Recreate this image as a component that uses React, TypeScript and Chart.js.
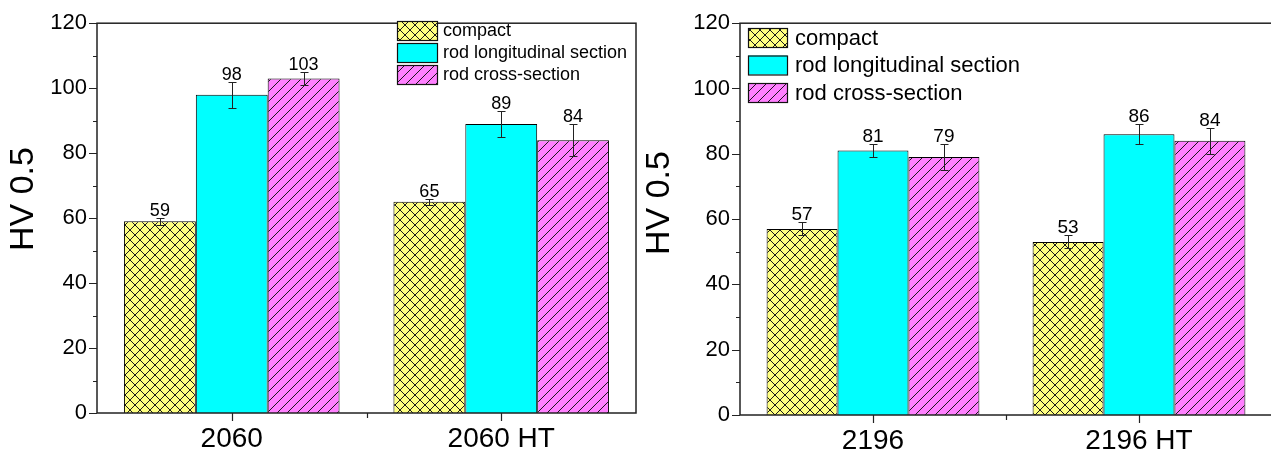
import React, { useEffect, useRef } from 'react';
import { Chart, registerables } from 'chart.js';

Chart.register(...registerables);

const FONT = '"Liberation Sans", Arial, Helvetica, sans-serif';

// Series shared by both panels
const seriesNames = ['compact', 'rod longitudinal section', 'rod cross-section'];

// Alloy 2060
const categories2060 = ['2060', '2060 HT'];
const compact2060 = [59, 65];
const compactErr2060 = [1, 1];
const longitudinal2060 = [98, 89];
const longitudinalErr2060 = [4, 4];
const crossSection2060 = [103, 84];
const crossSectionErr2060 = [2, 5];

// Alloy 2196
const categories2196 = ['2196', '2196 HT'];
const compact2196 = [57, 53];
const compactErr2196 = [2, 2];
const longitudinal2196 = [81, 86];
const longitudinalErr2196 = [2, 3];
const crossSection2196 = [79, 84];
const crossSectionErr2196 = [4, 4];

// Hardness axis
const yTicks = [0, 20, 40, 60, 80, 100, 120];
const yMinorTicks = [10, 30, 50, 70, 90, 110];
const yTitle = 'HV 0.5';

type PanelSpec = {
  categories: string[];
  values: number[][];
  errs: number[][];
  width: number;
  axisW: number;
  bottomH: number;
  padTop: number;
  padRight: number;
  tickFont: number;
  tickPad: number;
  catFont: number;
  catPad: number;
  valueFont: number;
  title: { x: number; y: number; size: number };
  legend: { x: number; y: number; w: number; h: number; pitch: number; textX: number; size: number };
};

const panel2060: PanelSpec = {
  categories: categories2060,
  values: [compact2060, longitudinal2060, crossSection2060],
  errs: [compactErr2060, longitudinalErr2060, crossSectionErr2060],
  width: 640,
  axisW: 97,
  bottomH: 45,
  padTop: 20,
  padRight: 4,
  tickFont: 22,
  tickPad: 10,
  catFont: 28,
  catPad: 9,
  valueFont: 18,
  title: { x: 24, y: 199, size: 34 },
  legend: { x: 397, y: 21, w: 40, h: 19, pitch: 22, textX: 443, size: 18 },
};

const panel2196: PanelSpec = {
  categories: categories2196,
  values: [compact2196, longitudinal2196, crossSection2196],
  errs: [compactErr2196, longitudinalErr2196, crossSectionErr2196],
  width: 634,
  axisW: 100,
  bottomH: 43,
  padTop: 21,
  padRight: 2,
  tickFont: 22,
  tickPad: 10,
  catFont: 28,
  catPad: 9,
  valueFont: 19,
  title: { x: 20, y: 203, size: 34 },
  legend: { x: 108, y: 28, w: 39, h: 19, pitch: 27.5, textX: 155, size: 22 },
};

function makeHatch(bg: string, kind: 'cross' | 'slash', p: number): CanvasPattern | string {
  const c = document.createElement('canvas');
  c.width = p;
  c.height = p;
  const g = c.getContext('2d');
  if (!g) return bg;
  g.fillStyle = bg;
  g.fillRect(0, 0, p, p);
  g.strokeStyle = '#1a1a1a';
  g.lineWidth = 1;
  g.beginPath();
  for (const k of [-1, 0, 1]) {
    g.moveTo(k * p, p);
    g.lineTo(k * p + p, 0);
    if (kind === 'cross') {
      g.moveTo(k * p, 0);
      g.lineTo(k * p + p, p);
    }
  }
  g.stroke();
  const pat = g.createPattern(c, 'repeat');
  return pat || bg;
}

function overlay(spec: PanelSpec) {
  return {
    id: 'hardnessOverlay',
    afterDatasetsDraw(chart: any) {
      const ctx: CanvasRenderingContext2D = chart.ctx;
      const ys = chart.scales.y;
      ctx.save();
      seriesNames.forEach((_, i) => {
        const meta = chart.getDatasetMeta(i);
        meta.data.forEach((bar: any, j: number) => {
          const v = spec.values[i][j];
          const e = spec.errs[i][j];
          const x = Math.round(bar.x) + 0.5;
          const yHi = Math.round(ys.getPixelForValue(v + e)) + 0.5;
          const yLo = Math.round(ys.getPixelForValue(v - e)) + 0.5;
          ctx.strokeStyle = '#222';
          ctx.lineWidth = 1;
          ctx.beginPath();
          ctx.moveTo(x, yHi);
          ctx.lineTo(x, yLo);
          ctx.moveTo(x - 4, yHi);
          ctx.lineTo(x + 4, yHi);
          ctx.moveTo(x - 4, yLo);
          ctx.lineTo(x + 4, yLo);
          ctx.stroke();
          ctx.fillStyle = '#000';
          ctx.font = `${spec.valueFont}px ${FONT}`;
          ctx.textAlign = 'center';
          ctx.textBaseline = 'alphabetic';
          ctx.fillText(String(v), bar.x, yHi - 3);
        });
      });
      ctx.restore();
    },
    afterDraw(chart: any) {
      const ctx: CanvasRenderingContext2D = chart.ctx;
      const { left, right, top, bottom } = chart.chartArea;
      const ys = chart.scales.y;
      const xs = chart.scales.x;
      ctx.save();
      // frame
      ctx.strokeStyle = '#222';
      ctx.lineWidth = 1.5;
      ctx.strokeRect(left, top, right - left, bottom - top);
      // y ticks, pointing outward
      ctx.lineWidth = 1.2;
      ctx.beginPath();
      yTicks.forEach((v) => {
        const py = Math.round(ys.getPixelForValue(v)) + 0.5;
        ctx.moveTo(left - 8, py);
        ctx.lineTo(left, py);
      });
      yMinorTicks.forEach((v) => {
        const py = Math.round(ys.getPixelForValue(v)) + 0.5;
        ctx.moveTo(left - 4, py);
        ctx.lineTo(left, py);
      });
      // x ticks: major at group centres, minor between groups
      spec.categories.forEach((_, j) => {
        const px = Math.round(xs.getPixelForValue(j)) + 0.5;
        ctx.moveTo(px, bottom);
        ctx.lineTo(px, bottom + 8);
        if (j > 0) {
          const mid = Math.round((xs.getPixelForValue(j) + xs.getPixelForValue(j - 1)) / 2) + 0.5;
          ctx.moveTo(mid, bottom);
          ctx.lineTo(mid, bottom + 5);
        }
      });
      ctx.stroke();
      // axis title
      ctx.fillStyle = '#000';
      ctx.font = `${spec.title.size}px ${FONT}`;
      ctx.textAlign = 'center';
      ctx.textBaseline = 'middle';
      ctx.translate(spec.title.x, spec.title.y);
      ctx.rotate(-Math.PI / 2);
      ctx.fillText(yTitle, 0, 0);
      ctx.setTransform(1, 0, 0, 1, 0, 0);
      // legend
      const L = spec.legend;
      chart.data.datasets.forEach((ds: any, i: number) => {
        const sy = L.y + i * L.pitch;
        ctx.fillStyle = ds.backgroundColor;
        ctx.fillRect(L.x, sy, L.w, L.h);
        ctx.strokeStyle = '#111';
        ctx.lineWidth = 1.2;
        ctx.strokeRect(L.x + 0.5, sy + 0.5, L.w, L.h);
        ctx.fillStyle = '#000';
        ctx.font = `${L.size}px ${FONT}`;
        ctx.textAlign = 'left';
        ctx.textBaseline = 'middle';
        ctx.fillText(ds.label, L.textX, sy + L.h / 2 + 1);
      });
      ctx.restore();
    },
  };
}

function HardnessPanel({ spec }: { spec: PanelSpec }) {
  const ref = useRef<HTMLCanvasElement>(null);
  useEffect(() => {
    const canvas = ref.current;
    if (!canvas) return;
    const fills = [makeHatch('#ffff80', 'cross', 10), '#00ffff', makeHatch('#ff80ff', 'slash', 10)];
    const chart = new Chart(canvas, {
      type: 'bar',
      data: {
        labels: spec.categories,
        datasets: seriesNames.map((name, i) => ({
          label: name,
          data: spec.values[i],
          backgroundColor: fills[i] as any,
          borderColor: '#000',
          borderWidth: 1,
          categoryPercentage: 0.8,
          barPercentage: 1,
        })),
      },
      options: {
        responsive: false,
        animation: false,
        devicePixelRatio: 1,
        layout: { padding: { top: spec.padTop, right: spec.padRight, left: 0, bottom: 0 } },
        plugins: { legend: { display: false }, tooltip: { enabled: false } },
        scales: {
          x: {
            grid: { display: false, drawTicks: false },
            border: { display: false },
            ticks: { font: { family: FONT, size: spec.catFont }, color: '#000', padding: spec.catPad, maxRotation: 0, autoSkip: false },
            afterFit: (s: any) => {
              s.height = spec.bottomH;
            },
          },
          y: {
            min: 0,
            max: 120,
            grid: { display: false, drawTicks: false },
            border: { display: false },
            ticks: { font: { family: FONT, size: spec.tickFont }, color: '#000', padding: spec.tickPad },
            afterBuildTicks: (s: any) => {
              s.ticks = yTicks.map((v) => ({ value: v }));
            },
            afterFit: (s: any) => {
              s.width = spec.axisW;
            },
          },
        },
      } as any,
      plugins: [overlay(spec)],
    });
    return () => chart.destroy();
  }, [spec]);
  return <canvas ref={ref} width={spec.width} height={458} style={{ display: 'block', width: spec.width, height: 458 }} />;
}

export default function App() {
  return (
    <div style={{ position: 'absolute', left: 0, top: 0, width: 1271, height: 458, overflow: 'hidden', background: '#fff' }}>
      <div style={{ position: 'absolute', left: 0, top: 0 }}>
        <HardnessPanel spec={panel2060} />
      </div>
      <div style={{ position: 'absolute', left: 640, top: 0 }}>
        <HardnessPanel spec={panel2196} />
      </div>
    </div>
  );
}
